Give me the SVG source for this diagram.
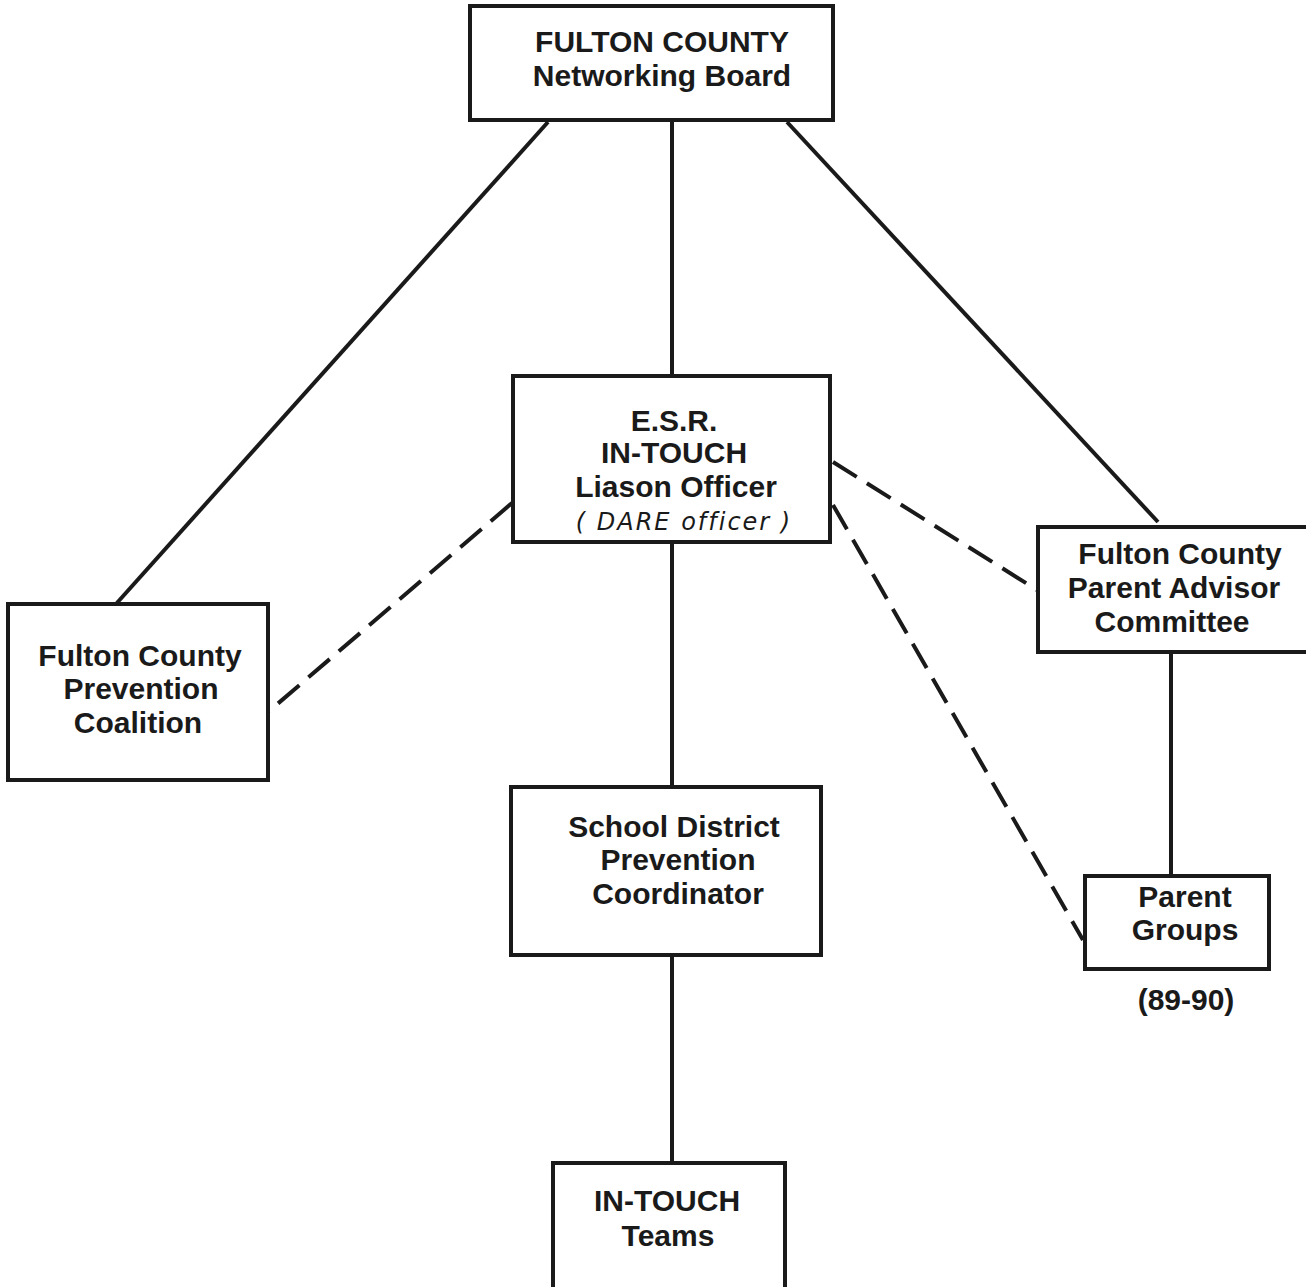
<svg xmlns="http://www.w3.org/2000/svg" width="1306" height="1287" viewBox="0 0 1306 1287">
<style>
.box{fill:#fff;stroke:#1a1a1a;stroke-width:4}
.t{font-family:"Liberation Sans",Arial,sans-serif;font-weight:bold;font-size:30px;fill:#1a1a1a;text-anchor:middle}
.hw{font-family:"DejaVu Sans",sans-serif;font-style:italic;font-size:24px;fill:#1a1a1a;text-anchor:middle;letter-spacing:2px}
.ln{stroke:#1a1a1a;stroke-width:4;fill:none}
.dash{stroke:#1a1a1a;stroke-width:4;fill:none;stroke-dasharray:28 12}
</style>
<rect width="1306" height="1287" fill="#fff"/>
<g id="connectors">
<line class="ln" x1="672" y1="120" x2="672" y2="376"/>
<line class="ln" x1="548" y1="122" x2="116" y2="604"/>
<line class="ln" x1="787" y1="122" x2="1158" y2="522"/>
<line class="ln" x1="672" y1="542" x2="672" y2="787"/>
<line class="ln" x1="672" y1="955" x2="672" y2="1163"/>
<line class="ln" x1="1171" y1="652" x2="1171" y2="876"/>
<line class="dash" x1="512" y1="503" x2="268" y2="712"/>
<line class="dash" x1="833" y1="462" x2="1037" y2="590"/>
<line class="dash" x1="833" y1="505" x2="1083" y2="940"/>
</g>
<g id="networking-board">
<rect class="box" x="470" y="6" width="363" height="114"/>
<text class="t" x="662" y="52">FULTON COUNTY</text>
<text class="t" x="662" y="86">Networking Board</text>
</g>
<g id="esr-liaison">
<rect class="box" x="513" y="376" width="317" height="166"/>
<text class="t" x="674" y="431">E.S.R.</text>
<text class="t" x="674" y="463">IN-TOUCH</text>
<text class="t" x="676" y="497">Liason Officer</text>
<text class="hw" x="684" y="530">( DARE officer )</text>
</g>
<g id="prevention-coalition">
<rect class="box" x="8" y="604" width="260" height="176"/>
<text class="t" x="140" y="666">Fulton County</text>
<text class="t" x="141" y="699">Prevention</text>
<text class="t" x="138" y="733">Coalition</text>
</g>
<g id="parent-advisor">
<path class="box" d="M1306 527 H1038 V652 H1306"/>
<text class="t" x="1180" y="564">Fulton County</text>
<text class="t" x="1174" y="598">Parent Advisor</text>
<text class="t" x="1172" y="632">Committee</text>
</g>
<g id="school-district">
<rect class="box" x="511" y="787" width="310" height="168"/>
<text class="t" x="674" y="837">School District</text>
<text class="t" x="678" y="870">Prevention</text>
<text class="t" x="678" y="904">Coordinator</text>
</g>
<g id="parent-groups">
<rect class="box" x="1085" y="876" width="184" height="93"/>
<text class="t" x="1185" y="907">Parent</text>
<text class="t" x="1185" y="940">Groups</text>
<text class="t" x="1186" y="1010">(89-90)</text>
</g>
<g id="intouch-teams">
<path class="box" d="M553 1290 V1163 H785 V1290"/>
<text class="t" x="667" y="1211">IN-TOUCH</text>
<text class="t" x="668" y="1246">Teams</text>
</g>
</svg>
